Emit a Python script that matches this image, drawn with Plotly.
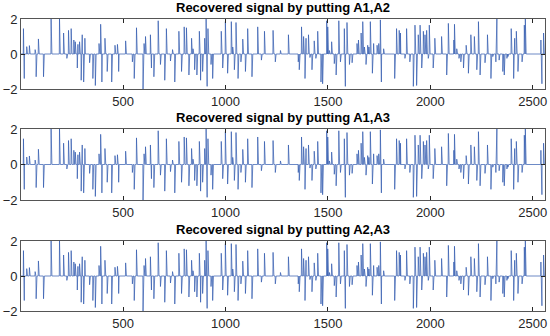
import numpy as np
import plotly.graph_objects as go

N = 2560
titles = ["Recovered signal by putting A1,A2",
          "Recovered signal by putting A1,A3",
          "Recovered signal by putting A2,A3"]
x_ticks = [500, 1000, 1500, 2000, 2500]
y_ticks = [-2, 0, 2]

spike_idx = [13, 17, 29, 42, 70, 75, 86, 111, 148, 189, 209, 225, 233, 246, 259, 266, 276, 279, 287,
             295, 300, 307, 313, 336, 352, 364, 382, 390, 396,
             411, 422, 444, 460, 472, 478, 512, 545, 554, 565, 597, 602, 609, 633, 638, 650, 671,
             682, 703, 711, 731, 741, 752, 772, 785, 798, 809, 821, 834,
             841, 849, 860, 872, 878, 888, 898, 905, 910, 914, 929, 937, 979, 986, 999, 1010, 1028,
             1035, 1043, 1051, 1061, 1075, 1084, 1097, 1108, 1129, 1157, 1175, 1190, 1232, 1243, 1268,
             1307, 1355, 1360, 1371, 1381, 1388, 1393, 1405, 1412, 1422, 1433, 1441, 1450, 1466, 1474,
             1494, 1499, 1507, 1518, 1531, 1540, 1553, 1561, 1580, 1585, 1593, 1605, 1618, 1642, 1649,
             1662, 1670, 1678, 1686, 1694,
             1700, 1707, 1717, 1723, 1740, 1748, 1756, 1761, 1772, 1826, 1835, 1848, 1854, 1876, 1884,
             1900, 1917, 1925, 1933, 1941, 1950, 1958, 1966, 1974, 1982, 1990, 1995, 2014, 2022, 2055,
             2080, 2088, 2115,
             2118, 2129, 2140, 2149, 2162, 2175, 2186, 2198, 2215, 2227, 2235, 2243, 2267, 2279, 2296,
             2305, 2320, 2325, 2336, 2354, 2361, 2374, 2379, 2395, 2407, 2412, 2420, 2428, 2448, 2459,
             2464, 2540, 2545, 2553]
spike_val = [1.45, -1.4, 0.42, 0.48, 0.25, -1.3, 0.86, -1.3, 2.0, 2.0, 1.2, -0.25, 1.35, 1.45, 0.8, 0.7, -0.8, 0.55, 0.7,
             -1.5, 1.1, -1.6, 0.9, -0.5, -1.4, -1.8, 0.6, 1.7, -1.6,
             0.9, -1.0, -1.6, 0.5, 0.55, -1.0, 0.75, -0.45, -1.4, 1.5, -2.0, 0.6, 1.0, 1.1, -0.8, -1.3, 1.9,
             -0.6, -1.5, 1.45, -0.4, 0.25, -1.6, 1.3, -1.0, 1.55, 1.5, -1.2, 0.9,
             0.3, -0.9, -1.2, 1.3, -1.5, -1.0, 0.9, 2.0, -1.85, 1.45, -0.6, -1.4, 1.3, -0.8, 1.85, -1.1, 1.85,
             0.4, -0.9, 1.8, -1.4, -0.45, 0.85, -1.0, 1.45, -1.3, 1.55, -0.35, 1.3, 1.35, -0.45, 0.2,
             1.1, -0.45, -0.9, 1.55, 1.0, -1.4, 0.9, 1.1, -0.2, -0.9, 0.75, -0.25, 1.3, -1.6, -1.7,
             1.9, 1.55, 0.2, 0.7, -0.55, -1.2, 1.9, -0.45, 1.45, -1.85, 1.8, -0.6, -0.5, 0.6, 0.8,
             1.2, 1.85, 0.4, -0.6, 0.5,
             0.4, 1.85, -1.1, 0.6, 0.5, 0.6, 1.95, -1.6, 0.3, -1.4, 1.45, 1.35, 1.2, -0.25, 1.45,
             -0.45, -1.85, 1.65, -1.8, 1.1, 1.65, -0.8, 1.3, 1.1, 1.35, -0.25, 1.65, -0.8, 0.9, 1.0,
             -1.2, 1.75, 0.8,
             1.7, 0.3, -0.25, -0.45, -0.8, 0.5, -1.1, 1.1, 1.0, -0.9, 1.85, -1.2, -0.5, 1.1, -1.4,
             -0.15, -0.45, 2.0, -0.35, -1.0, -1.2, -0.25, -0.15, 1.45, -1.4, 0.9, 1.3, -1.0, -0.45, 1.65,
             2.0, 0.8, -1.7, 1.2]

x = np.arange(1, N + 1)
signal = np.zeros(N)
signal[np.array(spike_idx) - 1] = spike_val

H = 336
panels_px = [(19, 89), (129, 200), (241, 311)]
domains = [[1 - b / H, 1 - t / H] for t, b in panels_px]

fig = go.Figure()
axis_font = dict(family="Liberation Sans, Arial, sans-serif", size=13, color="#262626")
common = dict(ticks="inside", ticklen=4, tickcolor="#262626", showline=True,
              linecolor="#555555", linewidth=0.8, mirror="ticks", showgrid=False,
              zeroline=False, tickfont=axis_font, automargin=False)
for i in range(3):
    xa = "x" if i == 0 else f"x{i+1}"
    ya = "y" if i == 0 else f"y{i+1}"
    fig.add_trace(go.Scatter(x=x, y=signal, mode="lines", xaxis=xa, yaxis=ya,
                             line=dict(color="#2E58AE", width=0.7), showlegend=False,
                             hoverinfo="skip"))
    axkey = "" if i == 0 else str(i + 1)
    fig.update_layout(**{
        f"xaxis{axkey}": dict(domain=[0, 1], anchor=ya, range=[1, N], tickvals=x_ticks, **common),
        f"yaxis{axkey}": dict(domain=domains[i], anchor=xa, range=[-2, 2], tickvals=y_ticks, **common),
    })
    fig.add_annotation(text=f"<b>{titles[i]}</b>", xref="paper", yref="paper", x=0.5,
                       y=domains[i][1], xanchor="center", yanchor="bottom", yshift=2,
                       showarrow=False,
                       font=dict(family="Liberation Sans, Arial, sans-serif", size=13, color="black"))

fig.update_layout(width=550, height=336, margin=dict(l=21, r=5, t=0, b=0, autoexpand=False),
                  plot_bgcolor="white", paper_bgcolor="white")
fig.write_html("out.html", config={"displayModeBar": False},
               post_script="document.body.style.margin='0';document.body.style.padding='0';")
